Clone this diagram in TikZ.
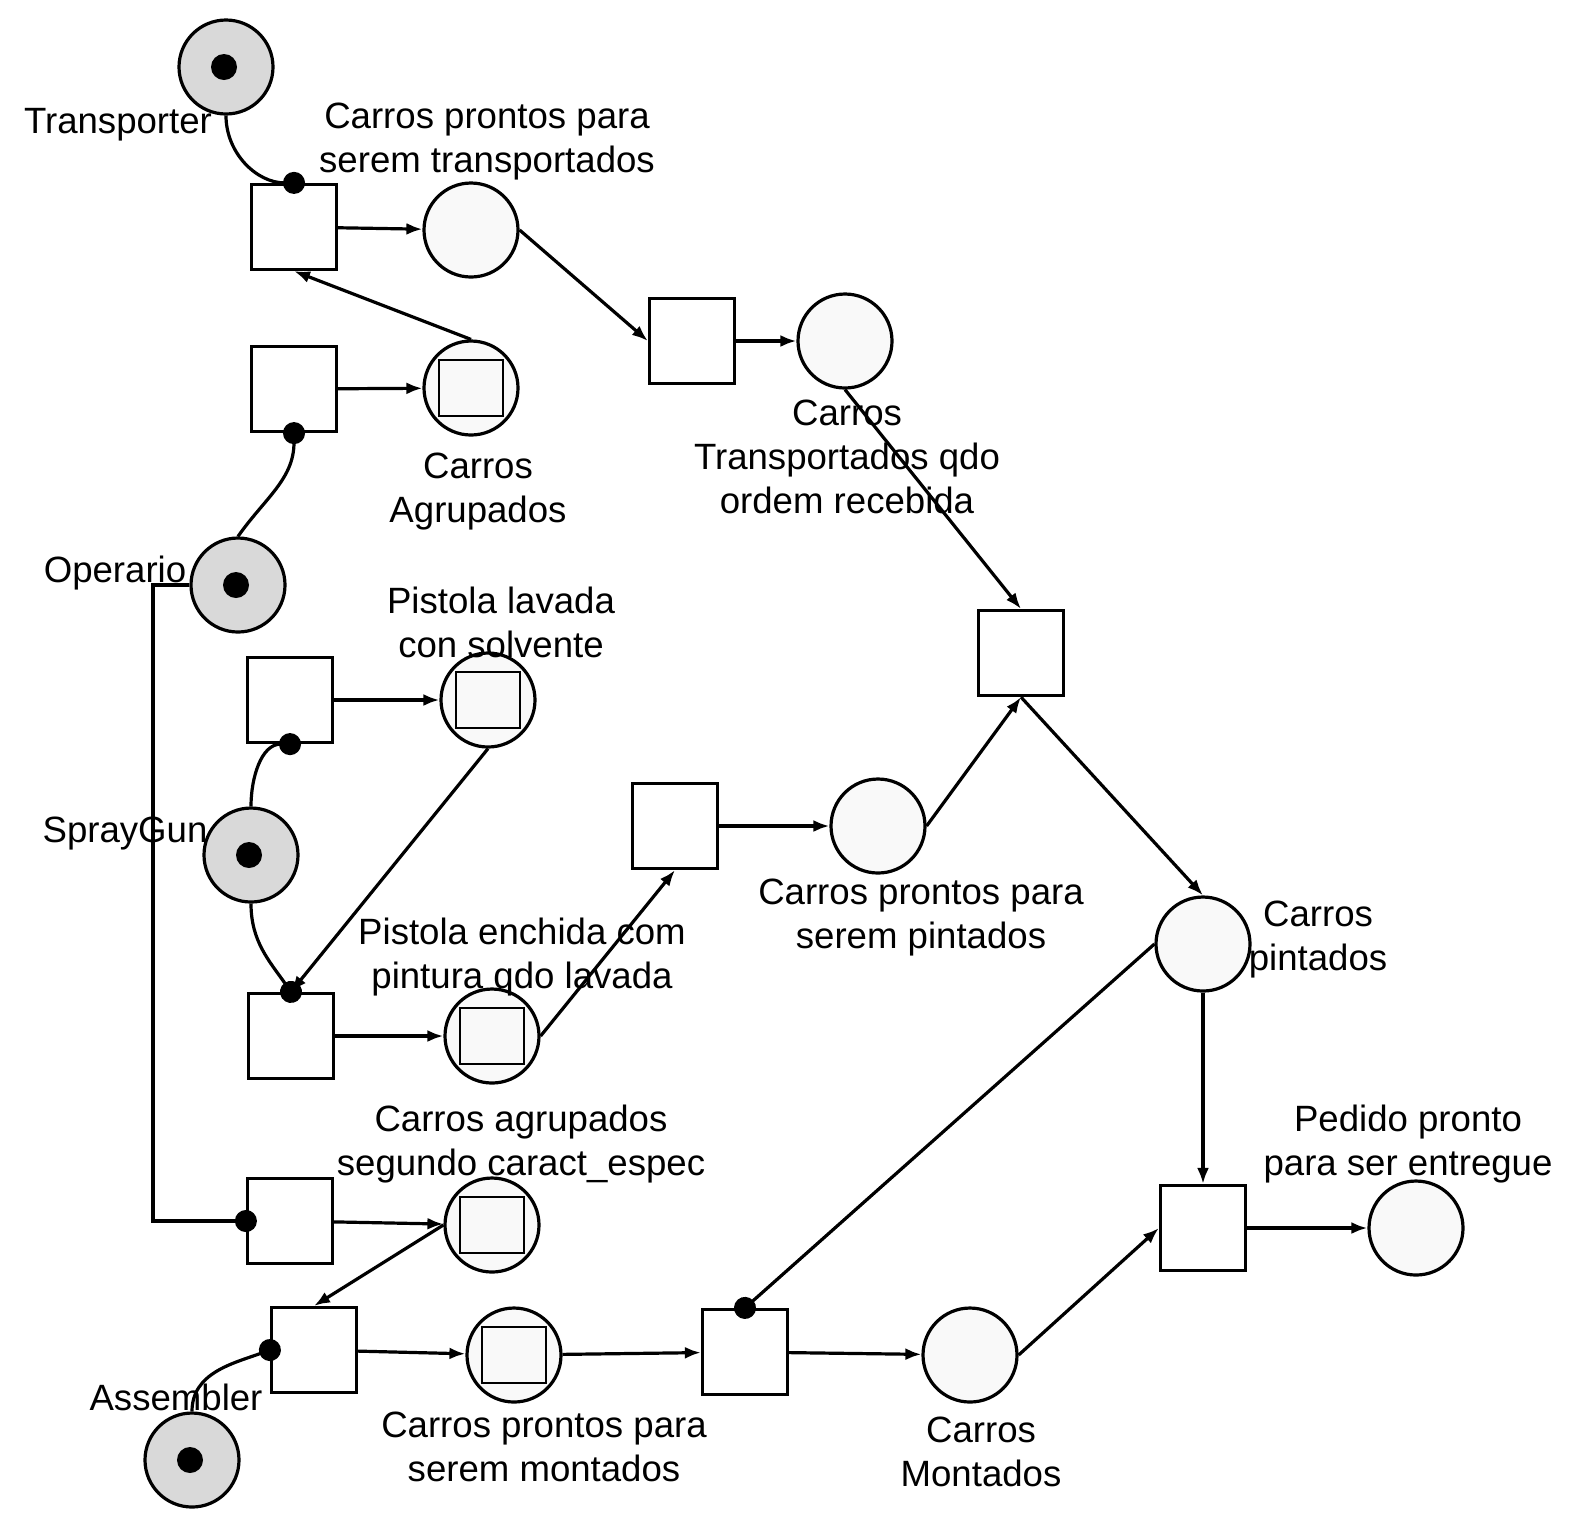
\documentclass[tikz,border=0pt]{standalone}
\usepackage{fontspec}
\setmainfont{Liberation Sans}
\usepackage{tikz}
\usetikzlibrary{arrows.meta,positioning,calc}

\tikzset{
  trans/.style={draw,line width=1.6pt,fill=white,minimum size=42.5pt,inner sep=0pt},
  place/.style={draw,circle,line width=1.6pt,fill=gray!5,minimum size=47pt,inner sep=0pt},
  stock/.style={place,path picture={\draw[line width=1.4pt] ([xshift=-16pt,yshift=-14pt]path picture bounding box.center) rectangle ++(32pt,28pt);}},
  res/.style={place,fill=gray!30,path picture={\fill[black] ([xshift=-1pt]path picture bounding box.center) circle (6.5pt);}},
  lbl/.style={align=center,font=\fontsize{18.3}{22}\selectfont,inner sep=0pt,yshift=-2pt},
  arc/.style={line width=1.6pt,-{Latex[length=8pt,width=6pt]}},
  test/.style={line width=1.6pt,-{Circle[length=11pt]},shorten >=-5.5pt}
}

\begin{document}
\begin{tikzpicture}[x=0.5pt,y=-0.5pt]
  \useasboundingbox (0,0) rectangle (1572,1517);
  % resources
  \node[res] (transporter) at (226,67){};
  \node[res] (operario) at (238,585){};
  \node[res] (spraygun) at (251,855){};
  \node[res] (assembler) at (192,1460){};
  % transitions
  \node[trans] (t1) at (294,227){};
  \node[trans] (t2) at (294,389){};
  \node[trans] (t3) at (692,341){};
  \node[trans] (t4) at (1021,653){};
  \node[trans] (t5) at (290,700){};
  \node[trans] (t6) at (291,1036){};
  \node[trans] (t7) at (675,826){};
  \node[trans] (t8) at (290,1221){};
  \node[trans] (t9) at (314,1350){};
  \node[trans] (t10) at (745,1352){};
  \node[trans] (t11) at (1203,1228){};
  % places
  \node[place] (p1) at (471,230){};
  \node[stock] (p2) at (471,388){};
  \node[place] (p3) at (845,341){};
  \node[stock] (p4) at (488,700){};
  \node[stock] (p5) at (492,1036){};
  \node[place] (p6) at (878,826){};
  \node[place] (p7) at (1203,944){};
  \node[stock] (p8) at (492,1225){};
  \node[stock] (p9) at (514,1355){};
  \node[place] (p10) at (970,1355){};
  \node[place] (p11) at (1416,1228){};
  \coordinate (bus) at (153,585);
  % labels
  \node[lbl] (lt) at (118,121){Transporter};
  \node[lbl] (lp1) at (487,138){Carros prontos para\\serem transportados};
  \node[lbl] (lp2) at (478,488){Carros\\Agrupados};
  \node[lbl] (lp3) at (847,453){Carros\\Transportados qdo\\ordem recebida};
  \node[lbl] (lo) at (115,569){Operario};
  \node[lbl] (lp4) at (501,618){Pistola lavada\\con solvente};
  \node[lbl] (ls) at (125,829){SprayGun};
  \node[lbl] (lp6) at (921,913){Carros prontos para\\serem pintados};
  \node[lbl] (lp5) at (522,953){Pistola enchida com\\pintura qdo lavada};
  \node[lbl] (lp7) at (1318,935){Carros\\pintados};
  \node[lbl] (lp8) at (521,1140){Carros agrupados\\segundo caract\_espec};
  \node[lbl] (lp11) at (1408,1140){Pedido pronto\\para ser entregue};
  \node[lbl] (la) at (176,1393){Assembler};
  \node[lbl] (lp9) at (544,1443){Carros prontos para\\serem montados};
  \node[lbl] (lp10) at (981,1448){Carros\\Montados};
  % arcs
  \draw[test] (transporter.south) to[out=-90,in=180] (t1.north);
  \draw[arc] (t1) -- (p1);
  \draw[arc] (p1.east) -- (t3.west);
  \draw[arc] (t3) -- (p3);
  \draw[arc] (p3.south) -- (t4.north);
  \draw[arc] (p2.north) -- (t1.south);
  \draw[arc] (t2) -- (p2);
  \draw[test] (operario.north) to[out=55,in=-90] (t2.south);
  \draw[test] (operario.west) -- (bus) |- (t8.west);
  \draw[arc] (t5) -- (p4);
  \draw[test] (spraygun.north) to[out=90,in=180] (t5.south);
  \draw[test] (spraygun.south) to[out=-90,in=125] (t6.north);
  \draw[arc] (p4.south) -- (t6.north);
  \draw[arc] (t6) -- (p5);
  \draw[arc] (p5.east) -- (t7.south);
  \draw[arc] (t7) -- (p6);
  \draw[arc] (p6.east) -- (t4.south);
  \draw[arc] (t4.south) -- (p7.north);
  \draw[test] (p7.west) -- (t10.north);
  \draw[arc] (p7) -- (t11);
  \draw[arc] (t10) -- (p10);
  \draw[arc] (p10.east) -- (t11.west);
  \draw[arc] (t11) -- (p11);
  \draw[arc] (t8) -- (p8);
  \draw[arc] (p8.west) -- (t9.north);
  \draw[test] (assembler.north) to[out=90,in=-160] (t9.west);
  \draw[arc] (t9) -- (p9);
  \draw[arc] (p9) -- (t10);
\end{tikzpicture}
\end{document}
